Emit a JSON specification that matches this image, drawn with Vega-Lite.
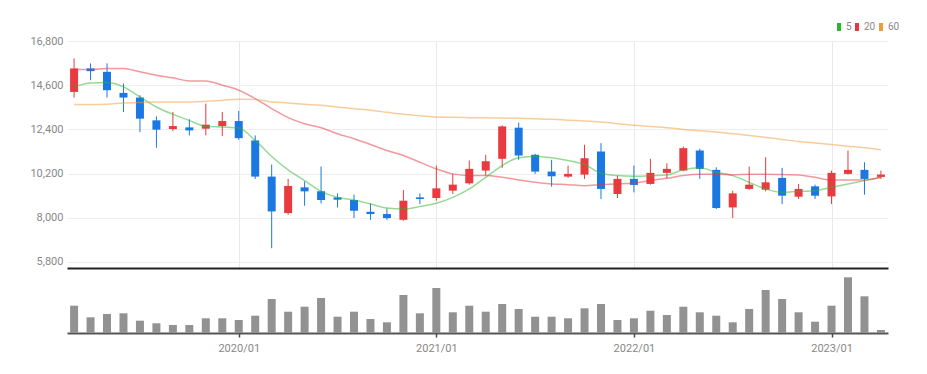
{
  "$schema": "https://vega.github.io/schema/vega-lite/v6.json",
  "autosize": {"type": "pad"},
  "padding": {"left": 29, "top": 21, "right": 10, "bottom": 10},
  "background": "white",
  "bounds": "flush",
  "spacing": 2,
  "config": {
    "view": {"stroke": null},
    "font": "Roboto, sans-serif",
    "axis": {"labelFont": "Roboto, sans-serif", "labelFontSize": 11, "labelColor": "#888888"},
    "legend": {"labelFont": "Roboto, sans-serif", "columnPadding": -3}
  },
  "data": {
    "values": [
      {"m": "2019/03", "open": 14265, "high": 15935, "low": 13985, "close": 15435, "vol": 273000, "ma5": 14515, "ma20": 15385, "ma60": 13635},
      {"m": "2019/04", "open": 15435, "high": 15685, "low": 14850, "close": 15300, "vol": 157000, "ma5": 14715, "ma20": 15385, "ma60": 13635},
      {"m": "2019/05", "open": 15265, "high": 15685, "low": 13985, "close": 14350, "vol": 190000, "ma5": 14735, "ma20": 15435, "ma60": 13650},
      {"m": "2019/06", "open": 14215, "high": 14685, "low": 13265, "close": 13985, "vol": 197000, "ma5": 14515, "ma20": 15435, "ma60": 13715},
      {"m": "2019/07", "open": 13985, "high": 14100, "low": 12265, "close": 12935, "vol": 123000, "ma5": 14015, "ma20": 15265, "ma60": 13735},
      {"m": "2019/08", "open": 12850, "high": 13050, "low": 11485, "close": 12385, "vol": 97000, "ma5": 13515, "ma20": 15100, "ma60": 13765},
      {"m": "2019/09", "open": 12415, "high": 13265, "low": 12315, "close": 12565, "vol": 80000, "ma5": 13150, "ma20": 14965, "ma60": 13765},
      {"m": "2019/10", "open": 12500, "high": 12900, "low": 12100, "close": 12350, "vol": 80000, "ma5": 12850, "ma20": 14815, "ma60": 13765},
      {"m": "2019/11", "open": 12435, "high": 13685, "low": 12100, "close": 12635, "vol": 147000, "ma5": 12550, "ma20": 14815, "ma60": 13800},
      {"m": "2019/12", "open": 12565, "high": 13265, "low": 12065, "close": 12815, "vol": 147000, "ma5": 12515, "ma20": 14600, "ma60": 13850},
      {"m": "2020/01", "open": 12815, "high": 13315, "low": 11885, "close": 11965, "vol": 130000, "ma5": 12465, "ma20": 14350, "ma60": 13900},
      {"m": "2020/02", "open": 11850, "high": 12100, "low": 9935, "close": 10050, "vol": 173000, "ma5": 11850, "ma20": 13935, "ma60": 13885},
      {"m": "2020/03", "open": 10050, "high": 10650, "low": 6485, "close": 8315, "vol": 340000, "ma5": 11050, "ma20": 13435, "ma60": 13765},
      {"m": "2020/04", "open": 8235, "high": 9935, "low": 8150, "close": 9585, "vol": 213000, "ma5": 10385, "ma20": 12985, "ma60": 13715},
      {"m": "2020/05", "open": 9515, "high": 9815, "low": 8600, "close": 9315, "vol": 263000, "ma5": 9850, "ma20": 12685, "ma60": 13650},
      {"m": "2020/06", "open": 9315, "high": 10550, "low": 8715, "close": 8885, "vol": 350000, "ma5": 9315, "ma20": 12485, "ma60": 13600},
      {"m": "2020/07", "open": 9015, "high": 9215, "low": 8515, "close": 8900, "vol": 163000, "ma5": 9015, "ma20": 12185, "ma60": 13515},
      {"m": "2020/08", "open": 8885, "high": 9150, "low": 7985, "close": 8350, "vol": 213000, "ma5": 8885, "ma20": 11935, "ma60": 13430},
      {"m": "2020/09", "open": 8300, "high": 8715, "low": 7900, "close": 8185, "vol": 140000, "ma5": 8685, "ma20": 11650, "ma60": 13350},
      {"m": "2020/10", "open": 8185, "high": 8465, "low": 7885, "close": 7985, "vol": 107000, "ma5": 8485, "ma20": 11350, "ma60": 13250},
      {"m": "2020/11", "open": 7900, "high": 9385, "low": 7850, "close": 8850, "vol": 380000, "ma5": 8435, "ma20": 11100, "ma60": 13150},
      {"m": "2020/12", "open": 9015, "high": 9215, "low": 8685, "close": 8935, "vol": 197000, "ma5": 8565, "ma20": 10765, "ma60": 13080},
      {"m": "2021/01", "open": 8985, "high": 10600, "low": 8850, "close": 9465, "vol": 450000, "ma5": 8720, "ma20": 10435, "ma60": 13015},
      {"m": "2021/02", "open": 9350, "high": 10185, "low": 9185, "close": 9650, "vol": 207000, "ma5": 9015, "ma20": 10185, "ma60": 13000},
      {"m": "2021/03", "open": 9715, "high": 10850, "low": 9650, "close": 10435, "vol": 273000, "ma5": 9435, "ma20": 10100, "ma60": 12985},
      {"m": "2021/04", "open": 10350, "high": 11135, "low": 10100, "close": 10815, "vol": 213000, "ma5": 10015, "ma20": 10100, "ma60": 12975},
      {"m": "2021/05", "open": 10935, "high": 12600, "low": 10485, "close": 12550, "vol": 290000, "ma5": 10600, "ma20": 10015, "ma60": 12965},
      {"m": "2021/06", "open": 12485, "high": 12735, "low": 10885, "close": 11100, "vol": 240000, "ma5": 10985, "ma20": 9885, "ma60": 12950},
      {"m": "2021/07", "open": 11135, "high": 11185, "low": 10185, "close": 10300, "vol": 163000, "ma5": 11050, "ma20": 9765, "ma60": 12935},
      {"m": "2021/08", "open": 10300, "high": 10885, "low": 9550, "close": 10065, "vol": 163000, "ma5": 10985, "ma20": 9685, "ma60": 12900},
      {"m": "2021/09", "open": 10050, "high": 10600, "low": 9985, "close": 10185, "vol": 147000, "ma5": 10850, "ma20": 9650, "ma60": 12860},
      {"m": "2021/10", "open": 10150, "high": 11635, "low": 9935, "close": 10965, "vol": 247000, "ma5": 10650, "ma20": 9600, "ma60": 12820},
      {"m": "2021/11", "open": 11300, "high": 11715, "low": 8935, "close": 9435, "vol": 290000, "ma5": 10215, "ma20": 9650, "ma60": 12765},
      {"m": "2021/12", "open": 9185, "high": 10100, "low": 8985, "close": 9935, "vol": 130000, "ma5": 10100, "ma20": 9685, "ma60": 12685},
      {"m": "2022/01", "open": 9935, "high": 10600, "low": 9265, "close": 9635, "vol": 147000, "ma5": 10065, "ma20": 9735, "ma60": 12600},
      {"m": "2022/02", "open": 9685, "high": 10935, "low": 9650, "close": 10235, "vol": 223000, "ma5": 10100, "ma20": 9850, "ma60": 12545},
      {"m": "2022/03", "open": 10235, "high": 10715, "low": 9965, "close": 10435, "vol": 180000, "ma5": 10135, "ma20": 9965, "ma60": 12485},
      {"m": "2022/04", "open": 10350, "high": 11550, "low": 10315, "close": 11465, "vol": 263000, "ma5": 10385, "ma20": 10100, "ma60": 12400},
      {"m": "2022/05", "open": 11350, "high": 11435, "low": 9935, "close": 10435, "vol": 207000, "ma5": 10485, "ma20": 10165, "ma60": 12330},
      {"m": "2022/06", "open": 10385, "high": 10515, "low": 8435, "close": 8485, "vol": 173000, "ma5": 10265, "ma20": 10165, "ma60": 12265},
      {"m": "2022/07", "open": 8515, "high": 9350, "low": 7985, "close": 9215, "vol": 107000, "ma5": 10100, "ma20": 10135, "ma60": 12185},
      {"m": "2022/08", "open": 9435, "high": 10550, "low": 9400, "close": 9650, "vol": 240000, "ma5": 9765, "ma20": 10165, "ma60": 12100},
      {"m": "2022/09", "open": 9400, "high": 11015, "low": 9315, "close": 9765, "vol": 430000, "ma5": 9435, "ma20": 10165, "ma60": 12000},
      {"m": "2022/10", "open": 9985, "high": 10485, "low": 8685, "close": 9100, "vol": 340000, "ma5": 9265, "ma20": 10150, "ma60": 11900},
      {"m": "2022/11", "open": 9050, "high": 9685, "low": 8935, "close": 9435, "vol": 207000, "ma5": 9315, "ma20": 10135, "ma60": 11800},
      {"m": "2022/12", "open": 9565, "high": 9650, "low": 8935, "close": 9100, "vol": 113000, "ma5": 9350, "ma20": 10015, "ma60": 11720},
      {"m": "2023/01", "open": 9065, "high": 10350, "low": 8685, "close": 10235, "vol": 273000, "ma5": 9515, "ma20": 9885, "ma60": 11650},
      {"m": "2023/02", "open": 10185, "high": 11350, "low": 10150, "close": 10385, "vol": 557000, "ma5": 9685, "ma20": 9885, "ma60": 11565},
      {"m": "2023/03", "open": 10385, "high": 10765, "low": 9150, "close": 9935, "vol": 367000, "ma5": 9850, "ma20": 9885, "ma60": 11485},
      {"m": "2023/04", "open": 10035, "high": 10350, "low": 9935, "close": 10150, "vol": 30000, "ma5": 10015, "ma20": 10015, "ma60": 11385}
    ]
  },
  "vconcat": [
    {
      "width": 821,
      "height": 227,
      "encoding": {
        "x": {
          "field": "m",
          "type": "ordinal",
          "scale": {"type": "point", "padding": 0.43},
          "axis": {
            "values": ["2020/01", "2021/01", "2022/01", "2023/01"],
            "labels": false,
            "ticks": false,
            "title": null,
            "domainColor": "#222222",
            "domainWidth": 2,
            "grid": true,
            "gridColor": "#e9e9e9",
            "gridWidth": 1
          }
        }
      },
      "layer": [
        {
          "mark": {"type": "rule", "strokeWidth": 1},
          "encoding": {
            "y": {
              "field": "low",
              "type": "quantitative",
              "scale": {"domain": [5500, 16800], "zero": false, "nice": false},
              "axis": {
                "values": [5800, 8000, 10200, 12400, 14600, 16800],
                "format": ",",
                "labelExpr": "format(datum.value, ',')",
                "title": null,
                "domain": false,
                "ticks": false,
                "labelPadding": 4,
                "gridColor": "#eeeeee",
                "labelColor": "#888888",
                "labelFontSize": 11
              }
            },
            "y2": {"field": "high"},
            "color": {"condition": {"test": "datum.close >= datum.open", "value": "#e83a3f"}, "value": "#1b78e2"}
          }
        },
        {
          "mark": {"type": "bar", "width": 8},
          "encoding": {
            "y": {"field": "open", "type": "quantitative"},
            "y2": {"field": "close"},
            "color": {"condition": {"test": "datum.close >= datum.open", "value": "#e83a3f"}, "value": "#1b78e2"}
          }
        },
        {
          "transform": [{"fold": ["ma5", "ma20", "ma60"], "as": ["key", "val"]}],
          "mark": {"type": "line", "interpolate": "monotone", "strokeWidth": 1.5, "opacity": 0.5},
          "encoding": {
            "y": {"field": "val", "type": "quantitative"},
            "color": {
              "field": "key",
              "type": "nominal",
              "scale": {"domain": ["ma5", "ma20", "ma60"], "range": ["#2db52d", "#e8343c", "#f29b3b"]},
              "legend": {
                "title": null,
                "orient": "none",
                "legendX": 766,
                "legendY": -20,
                "direction": "horizontal",
                "gridAlign": "none",
                "labelExpr": "replace(datum.label, 'ma', '')",
                "symbolType": "M0,-1V1",
                "symbolSize": 64,
                "symbolStrokeWidth": 4,
                "symbolOpacity": 1,
                "labelFontSize": 10,
                "labelColor": "#888888",
                "labelOffset": 1,
                "columnPadding": -3,
                "padding": 0,
                "encode": {"symbols": {"update": {"opacity": {"value": 1}, "strokeWidth": {"value": 4}}}}
              }
            }
          }
        }
      ]
    },
    {
      "width": 821,
      "height": 63,
      "mark": {"type": "bar", "width": 8, "color": "#929292"},
      "encoding": {
        "x": {
          "field": "m",
          "type": "ordinal",
          "scale": {"type": "point", "padding": 0.43},
          "axis": {
            "values": ["2020/01", "2021/01", "2022/01", "2023/01"],
            "title": null,
            "grid": false,
            "labelAngle": 0,
            "domainColor": "#555555",
            "domainWidth": 2,
            "tickColor": "#444444",
            "tickSize": 4,
            "tickWidth": 1.5,
            "labelColor": "#888888",
            "labelFontSize": 11,
            "labelPadding": 5
          }
        },
        "y": {
          "field": "vol",
          "type": "quantitative",
          "scale": {"domain": [0, 630000], "nice": false},
          "axis": null
        }
      }
    }
  ]
}
